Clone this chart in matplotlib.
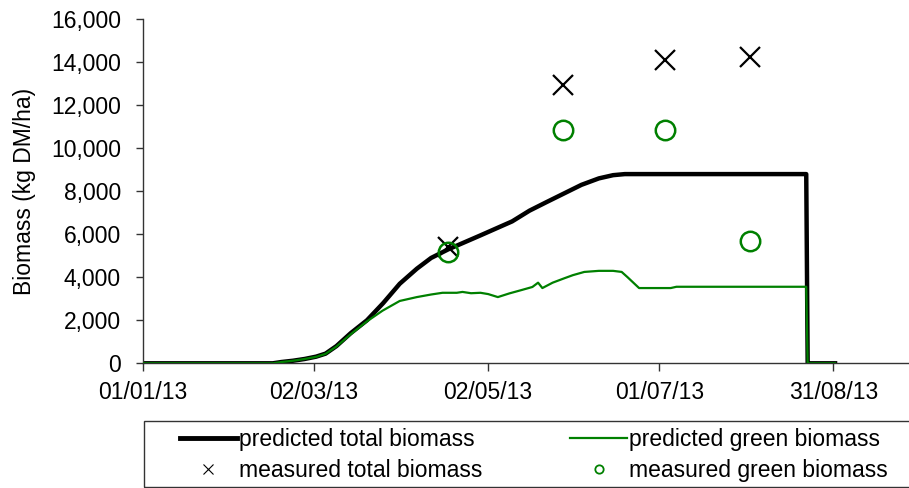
import matplotlib
matplotlib.use("Agg")
import matplotlib.pyplot as plt
import matplotlib.dates as mdates
from matplotlib.lines import Line2D
from matplotlib.patches import Rectangle
from matplotlib.ticker import FuncFormatter
from datetime import datetime
import numpy as np

plt.rcParams['font.family'] = ['Liberation Sans', 'DejaVu Sans']

START = datetime(2013, 1, 1)

# predicted total biomass (days since 01/01/13, kg DM/ha)
total_day = [0, 45.5, 48.5, 52.6, 56.6, 60.7, 64, 67.8, 72.8, 78.5, 84.2, 90, 96, 101,
             107, 118.3, 129.4, 135.5, 141.5, 147.6, 153.7, 159.8, 164.8, 168.9,
             232.5, 233, 242.6]
total_val = [0, 0, 60, 120, 200, 310, 450, 800, 1400, 2000, 2800, 3700, 4400, 4900,
             5300, 5950, 6600, 7100, 7500, 7900, 8300, 8600, 8750, 8800,
             8800, 0, 0]

# predicted green biomass
green_day = [0, 45.5, 48.5, 52.6, 56.6, 60.7, 64, 67.8, 72.8, 78.5, 84, 90, 96, 101,
             105, 110, 112, 115, 118.3, 121, 124.4, 128.4, 132.5, 136.5, 138.5, 140,
             143.6, 147.6, 150.7, 154.7, 159.8, 164.8, 167.8, 169.9, 171.9, 173.9,
             185, 187, 232.5, 233, 242.6]
green_val = [0, 0, 60, 120, 200, 300, 440, 780, 1350, 1950, 2450, 2900, 3080, 3200,
             3280, 3280, 3320, 3260, 3280, 3220, 3080, 3250, 3400, 3550, 3750, 3500,
             3750, 3950, 4100, 4250, 4300, 4300, 4250, 4000, 3750, 3500,
             3500, 3560, 3560, 0, 0]

# measurements
meas_day = [107, 147.4, 183, 212.7]
meas_total = [5420, 12950, 14100, 14250]
meas_green = [5190, 10850, 10850, 5700]

tick_dates = ['2013-01-01', '2013-03-02', '2013-05-02', '2013-07-01', '2013-08-31']

d0 = mdates.date2num(START)
to_x = lambda days: d0 + np.asarray(days, dtype=float)

fig = plt.figure(figsize=(9.09, 4.88), dpi=100)
ax = fig.add_axes([0.1573, 0.2555, 0.842, 0.705])

GREEN = '#008000'
ax.plot(to_x(total_day), total_val, color='black', lw=3.2, solid_joinstyle='round', zorder=2)
ax.plot(to_x(green_day), green_val, color=GREEN, lw=1.6, zorder=3)
ax.plot(to_x(meas_day), meas_total, linestyle='none', marker='x', color='black',
        markersize=14, markeredgewidth=1.6, zorder=4)
ax.plot(to_x(meas_day), meas_green, linestyle='none', marker='o', markerfacecolor='none',
        markeredgecolor=GREEN, markersize=14, markeredgewidth=1.8, zorder=4)

ax.set_xlim(d0, d0 + 268.3)
ax.set_ylim(0, 16000)
ax.set_yticks(np.arange(0, 16001, 2000))
ax.yaxis.set_major_formatter(FuncFormatter(lambda v, p: f"{int(v):,}"))
ax.set_xticks([mdates.date2num(datetime.strptime(t, '%Y-%m-%d')) for t in tick_dates])
ax.xaxis.set_major_formatter(mdates.DateFormatter('%d/%m/%y'))

for s in ['top', 'right']:
    ax.spines[s].set_visible(False)
for s in ['left', 'bottom']:
    ax.spines[s].set_color('#333333')
    ax.spines[s].set_linewidth(1)
ax.tick_params(axis='y', direction='out', length=5, width=1, color='#333333',
               labelsize=16.5, pad=11)
ax.tick_params(axis='x', direction='out', length=6, width=1, color='#333333',
               labelsize=16.5, pad=7)
ax.set_ylabel('Biomass (kg DM/ha)', fontsize=16.5)
ax.yaxis.set_label_coords(-0.14, 0.5)

handles = [
    Line2D([], [], color='black', lw=3.5),
    Line2D([], [], linestyle='none', marker='x', color='black', markersize=7, markeredgewidth=0.8),
    Line2D([], [], color=GREEN, lw=1.6),
    Line2D([], [], linestyle='none', marker='o', markerfacecolor='none',
           markeredgecolor=GREEN, markersize=6, markeredgewidth=1.3),
]
labels = ['predicted total biomass', 'measured total biomass',
          'predicted green biomass', 'measured green biomass']
leg = fig.legend(handles, labels, ncol=2, loc='center',
                 bbox_to_anchor=(534 / 909, 1 - 455 / 488), fontsize=16.5,
                 frameon=False, handlelength=2.5, handletextpad=0.1, columnspacing=3.8,
                 labelspacing=0.35, borderpad=0.2, borderaxespad=0)

# legend box (extends past the right edge, as in the original)
fig.patches.append(Rectangle((144 / 909, 1 - 487 / 488), 790 / 909, 66 / 488,
                             transform=fig.transFigure, fill=False,
                             edgecolor='#333333', linewidth=1))

fig.savefig('out.png', dpi=100)
